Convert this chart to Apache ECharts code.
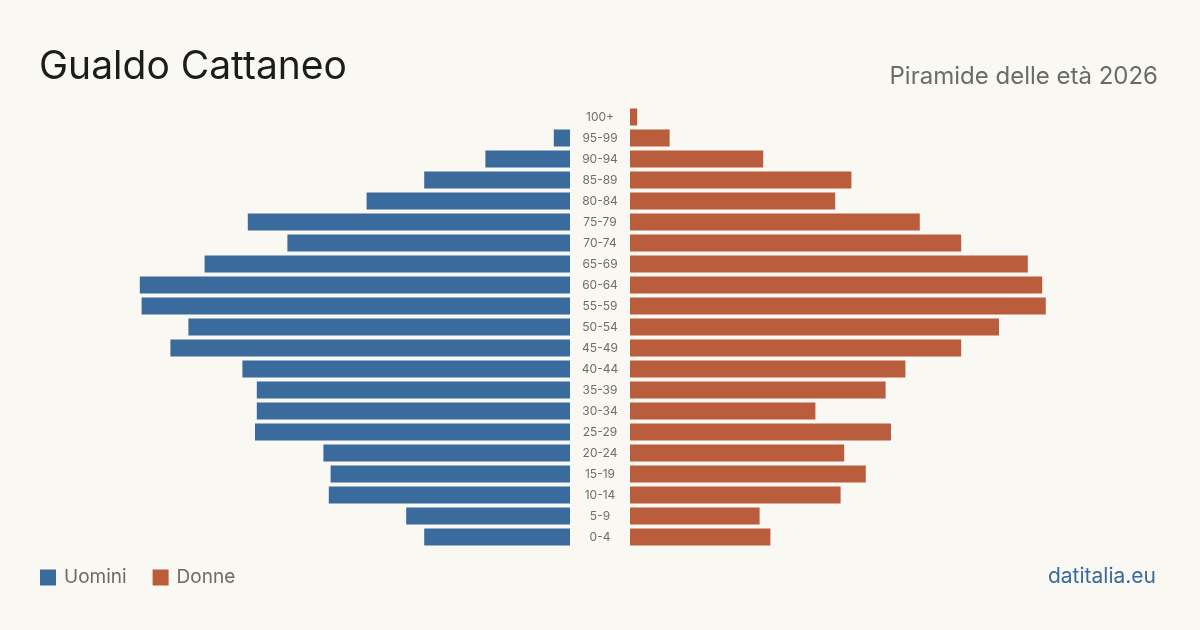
<!DOCTYPE html>
<html>
<head>
<meta charset="utf-8">
<script src="https://cdn.jsdelivr.net/npm/echarts@6/dist/echarts.min.js"></script>
<style>
  html, body { margin: 0; padding: 0; background: #f9f8f3; }
  #chart { width: 1200px; height: 630px; }
</style>
</head>
<body>
<div id="chart"></div>
<script>
// age classes, bottom to top
const ageClasses = ['0-4', '5-9', '10-14', '15-19', '20-24', '25-29', '30-34', '35-39', '40-44', '45-49',
    '50-54', '55-59', '60-64', '65-69', '70-74', '75-79', '80-84', '85-89', '90-94', '95-99', '100+'];
const uomini = [81, 91, 134, 133, 137, 175, 174, 174, 182, 222, 212, 238, 239, 203, 157, 179, 113, 81, 47, 9, 0];
const donne = [78, 72, 117, 131, 119, 145, 103, 142, 153, 184, 205, 231, 229, 221, 184, 161, 114, 123, 74, 22, 4];

const BLUE = '#3b6b9c';
const RED = '#b95d3d';
const FONT = 'Inter, "Noto Sans", sans-serif';

const chart = echarts.init(document.getElementById('chart'));

const hidden = {
    axisLine: { show: false },
    axisTick: { show: false },
    axisLabel: { show: false },
    splitLine: { show: false }
};

chart.setOption({
    backgroundColor: '#f9f8f3',
    animation: false,
    textStyle: { fontFamily: FONT },
    title: [
        {
            text: 'Gualdo Cattaneo',
            left: 34, top: 43,
            textStyle: { fontSize: 39, fontWeight: 'normal', color: '#1c1c1c', fontFamily: FONT }
        },
        {
            text: 'Piramide delle età 2026',
            right: 37, top: 60,
            textStyle: { fontSize: 24, fontWeight: 'normal', color: '#6b6b6b', fontFamily: FONT }
        },
        {
            text: 'datitalia.eu',
            right: 39, top: 561,
            textStyle: { fontSize: 21, fontWeight: 'normal', color: BLUE, fontFamily: FONT }
        }
    ],
    legend: {
        left: 35, top: 563,
        itemWidth: 16, itemHeight: 16, itemGap: 26,
        icon: 'rect',
        textStyle: { fontSize: 19, color: '#6b6b6b', fontFamily: FONT, padding: [0, 0, 0, 3] },
        data: ['Uomini', 'Donne']
    },
    grid: [
        { left: 120, width: 450, top: 106.5, height: 441 },
        { left: 630, width: 450, top: 106.5, height: 441 }
    ],
    xAxis: [
        Object.assign({ type: 'value', gridIndex: 0, min: 0, max: 250, inverse: true }, hidden),
        Object.assign({ type: 'value', gridIndex: 1, min: 0, max: 250 }, hidden)
    ],
    yAxis: [
        {
            type: 'category', gridIndex: 0, position: 'right', data: ageClasses,
            axisLine: { show: false }, axisTick: { show: false },
            axisLabel: { margin: 30, align: 'center', fontSize: 12, color: '#6e6e6e', fontFamily: FONT }
        },
        Object.assign({ type: 'category', gridIndex: 1, data: ageClasses }, hidden)
    ],
    series: [
        {
            name: 'Uomini', type: 'bar', xAxisIndex: 0, yAxisIndex: 0,
            data: uomini, barCategoryGap: '19%', itemStyle: { color: BLUE }
        },
        {
            name: 'Donne', type: 'bar', xAxisIndex: 1, yAxisIndex: 1,
            data: donne, barCategoryGap: '19%', itemStyle: { color: RED }
        }
    ]
});
</script>
</body>
</html>
